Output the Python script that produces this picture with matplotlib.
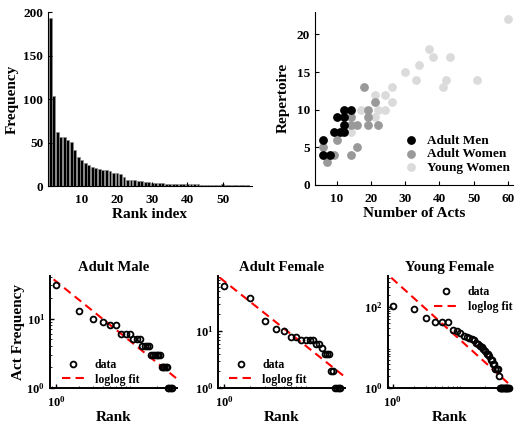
import matplotlib
matplotlib.use("Agg")
import matplotlib.pyplot as plt
import numpy as np

plt.rcParams['font.family'] = ['Liberation Serif', 'DejaVu Serif']
plt.rcParams['font.weight'] = 'bold'
plt.rcParams['mathtext.fontset'] = 'custom'
plt.rcParams['mathtext.rm'] = 'Liberation Serif:bold'
plt.rcParams['mathtext.bf'] = 'Liberation Serif:bold'
plt.rcParams['xtick.direction'] = 'in'
plt.rcParams['ytick.direction'] = 'in'

# act frequency by rank (all groups)
rank_freq = [194, 104, 62, 57, 56, 53, 51, 41, 34, 30, 27, 24, 22, 21, 20, 19, 18, 17, 15, 15,
             14, 10, 7, 7, 7, 6, 6, 5, 5, 4, 4, 4, 4, 3, 3, 3, 2, 2, 2, 2,
             2, 2, 2, 1, 1, 1, 1, 1, 1, 2, 1, 1, 1, 1, 1, 1, 1]

# number of acts vs repertoire
men_acts = [6, 6, 8, 9, 10, 11, 12, 12, 12, 12, 14]
men_rep = [6, 4, 4, 7, 9, 7, 7, 8, 9, 10, 10]
women_acts = [6, 7, 9, 10, 14, 14, 14, 16, 16, 18, 19, 19, 19, 21, 22]
women_rep = [5, 3, 4, 6, 9, 8, 4, 5, 8, 13, 10, 9, 8, 11, 8]
young_acts = [14, 17, 21, 21, 22, 24, 24, 26, 26, 30, 33, 34, 37, 38, 41, 42, 43, 51, 60]
young_rep = [7, 10, 12, 9, 10, 10, 12, 11, 13, 15, 14, 16, 18, 17, 13, 14, 17, 14, 22]

# per-group act frequency (rank order)
male_freq = [30, 13, 10, 9, 8, 8, 6, 6, 6, 5, 5, 5, 4, 4, 4, 4,
             3, 3, 3, 3, 3, 3, 2, 2, 2, 2, 2, 1, 1, 1, 1]
female_freq = [62, 39, 15, 11, 10, 8, 8, 7, 7, 7, 7, 6, 6, 5, 4, 4, 4,
               2, 2, 1, 1, 1, 1]
young_freq = [104, 88, 52, 42, 42, 42, 27, 26, 22, 19, 18, 17, 16, 15, 13, 12, 11, 10,
              9, 8, 7, 7, 6, 5, 5, 4, 4, 3, 3, 3, 2,
              1, 1, 1, 1, 1, 1, 1, 1, 1, 1, 1, 1]

# loglog fit: freq = c * rank^k
fit_params = {'Adult Male': (34.4, -0.90), 'Adult Female': (75.5, -1.19), 'Young Female': (487.0, -1.58)}

fig = plt.figure(figsize=(5.16, 4.24), dpi=100)

# --- rank histogram
ax1 = fig.add_axes([0.093, 0.561, 0.395, 0.410])
ranks = np.arange(1, len(rank_freq) + 1)
ax1.bar(ranks, rank_freq, width=0.8, color='k', edgecolor='0.55', linewidth=0.5)
ax1.set_xlim(0.4, 58.3)
ax1.set_ylim(0, 200)
ax1.set_xticks([10, 20, 30, 40, 50])
ax1.set_yticks([0, 50, 100, 150, 200])
ax1.set_xlabel('Rank index', fontsize=11, fontweight='bold', labelpad=1)
ax1.set_ylabel('Frequency', fontsize=11, fontweight='bold', labelpad=3)

# --- scatter
ax2 = fig.add_axes([0.610, 0.564, 0.384, 0.408])
ax2.scatter(men_acts, men_rep, s=28, color='k', label='Adult Men', zorder=3)
ax2.scatter(women_acts, women_rep, s=28, color='0.6', label='Adult Women', zorder=2)
ax2.scatter(young_acts, young_rep, s=28, color='0.86', label='Young Women', zorder=1)
ax2.set_xlim(3.5, 61.5)
ax2.set_ylim(0, 23)
ax2.set_xticks([10, 20, 30, 40, 50, 60])
ax2.set_yticks([0, 5, 10, 15, 20])
ax2.set_xlabel('Number of Acts', fontsize=11, fontweight='bold', labelpad=1)
ax2.set_ylabel('Repertoire', fontsize=11, fontweight='bold', labelpad=5)
ax2.legend(loc='upper left', bbox_to_anchor=(0.42, 0.33), frameon=False, borderpad=0,
           handlelength=1.0, handletextpad=0.7, labelspacing=0.1, fontsize=9.5)

for ax in (ax1, ax2):
    for s in ('top', 'right'):
        ax.spines[s].set_visible(False)
    ax.tick_params(labelsize=9.5, length=3, width=0.8)
    ax.tick_params(axis='x', pad=6)
    for lab in ax.get_xticklabels() + ax.get_yticklabels():
        lab.set_fontweight('bold')

# --- loglog panels
panels = [
    ('Adult Male', male_freq, [0.0969, 0.0849, 0.246, 0.264], (0.84, 36.3), (1, 40.8), [1, 10],
     (0.045, 0.31)),
    ('Adult Female', female_freq, [0.423, 0.0849, 0.2456, 0.264], (0.85, 26), (1, 93), [1, 10],
     (0.04, 0.31)),
    ('Young Female', young_freq, [0.751, 0.0849, 0.241, 0.264], (0.85, 47.6), (1, 571), [1, 100],
     (0.33, 0.96)),
]
for i, (name, freq, pos, xl, yl, yt, lpos) in enumerate(panels):
    ax = fig.add_axes(pos)
    r = np.arange(1, len(freq) + 1)
    ax.loglog(r, freq, 'o', mfc='none', mec='k', ms=4.2, mew=1.3, label='data', clip_on=False, zorder=3)
    c, k = fit_params[name]
    xf = np.array([0.5, 80])
    ax.loglog(xf, c * xf ** k, '--', color='r', lw=1.5, dashes=(4, 2.5), label='loglog fit')
    ax.set_xlim(*xl)
    ax.set_ylim(*yl)
    ax.set_xticks([1])
    ax.set_xticklabels([r'$\mathregular{10^{0}}$'])
    ax.set_yticks(yt)
    ax.set_yticklabels([r'$\mathregular{10^{%d}}$' % int(np.log10(v)) for v in yt])
    ax.tick_params(which='major', labelsize=9, length=3, width=1)
    ax.tick_params(axis='x', pad=5)
    ax.tick_params(which='minor', length=1.5, width=0.6)
    ax.xaxis.set_minor_formatter(matplotlib.ticker.NullFormatter())
    ax.yaxis.set_minor_formatter(matplotlib.ticker.NullFormatter())
    for s in ('top', 'right'):
        ax.spines[s].set_visible(False)
    for s in ('left', 'bottom'):
        ax.spines[s].set_linewidth(1.4)
    ax.set_title(name, fontsize=10.5, fontweight='bold', pad=4)
    ax.set_xlabel('Rank', fontsize=11, fontweight='bold', labelpad=1)
    if i == 0:
        ax.set_ylabel('Act Frequency', fontsize=11, fontweight='bold', labelpad=1)
    ax.legend(loc='upper left', bbox_to_anchor=lpos, frameon=False, borderpad=0,
              handlelength=2.0, handletextpad=0.8, labelspacing=0.2, fontsize=8.5)

fig.savefig('out.png', dpi=100)
